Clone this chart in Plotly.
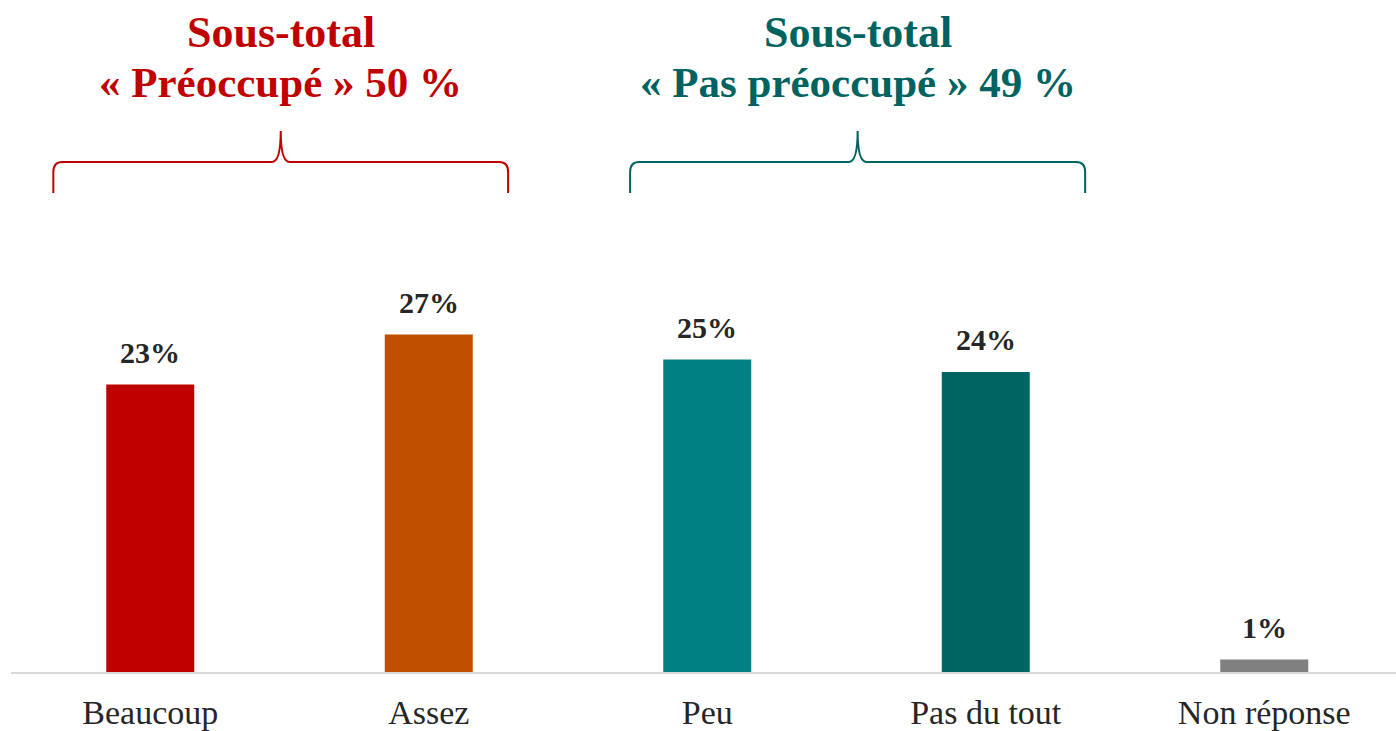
import plotly.graph_objects as go

categories = ["Beaucoup", "Assez", "Peu", "Pas du tout", "Non réponse"]
values = [23, 27, 25, 24, 1]
labels = ["23%", "27%", "25%", "24%", "1%"]
bar_colors = ["#C00000", "#C05000", "#008080", "#006462", "#808080"]

group_titles = ["Sous-total", "Sous-total"]
group_subtitles = ["« Préoccupé » 50 %", "« Pas préoccupé » 49 %"]
group_colors = ["#C00000", "#00635F"]
group_spans = [(-0.348, 1.285), (1.723, 3.357)]

FONT = "Palatino Linotype, Book Antiqua, Palatino, Liberation Serif, serif"
W, H = 1396, 731
ML, MR, MT, MB = 11, 0, 0, 59
PX_PER_UNIT = 278.5
PX_PER_PCT = 12.5
plot_w = W - ML - MR
plot_h = H - MT - MB
x_range = [-0.5, -0.5 + plot_w / PX_PER_UNIT]
y_range = [0, plot_h / PX_PER_PCT]

xs = list(range(len(categories)))

fig = go.Figure()
fig.add_trace(go.Bar(
    x=xs, y=values, width=88 / PX_PER_UNIT,
    marker=dict(color=bar_colors, line=dict(width=0)),
    hoverinfo="skip",
))

annotations = []
for x, v, t in zip(xs, values, labels):
    annotations.append(dict(
        x=x, y=v, xref="x", yref="y", text="<b>" + t + "</b>",
        showarrow=False, yanchor="bottom", yshift=14,
        font=dict(family=FONT, size=30, color="#262626"),
    ))


def py(p):
    return (H - MB - p) / PX_PER_PCT


shapes = []
for (x0, x1), col, t1, t2 in zip(group_spans, group_colors, group_titles, group_subtitles):
    tip = (x0 + x1) / 2
    yE, yH, yT = py(193), py(162), py(131)
    dx = 9 / PX_PER_UNIT
    dy = 10 / PX_PER_PCT
    path = (f"M {x0},{yE} L {x0},{yH - dy} Q {x0},{yH} {x0 + dx},{yH} "
            f"L {tip - dx},{yH} Q {tip},{yH} {tip},{yT} "
            f"Q {tip},{yH} {tip + dx},{yH} L {x1 - dx},{yH} "
            f"Q {x1},{yH} {x1},{yH - dy} L {x1},{yE}")
    shapes.append(dict(type="path", path=path, xref="x", yref="y",
                       line=dict(color=col, width=2)))
    annotations.append(dict(
        x=tip, y=py(32), xref="x", yref="y", text="<b>" + t1 + "</b>",
        showarrow=False, yanchor="middle",
        font=dict(family=FONT, size=44, color=col),
    ))
    annotations.append(dict(
        x=tip, y=py(82), xref="x", yref="y", text="<b>" + t2 + "</b>",
        showarrow=False, yanchor="middle",
        font=dict(family=FONT, size=43, color=col),
    ))

fig.update_layout(
    width=W, height=H,
    margin=dict(l=ML, r=MR, t=MT, b=MB, pad=0),
    plot_bgcolor="white", paper_bgcolor="white",
    showlegend=False,
    shapes=shapes, annotations=annotations,
    xaxis=dict(
        range=x_range, tickmode="array", tickvals=xs, ticktext=categories,
        showgrid=False, zeroline=False, showline=True,
        linecolor="#D9D9D9", linewidth=2, ticks="",
        tickfont=dict(family=FONT, size=34, color="#262626"),
        ticklabelstandoff=9, fixedrange=True, automargin=False,
    ),
    yaxis=dict(range=y_range, visible=False, fixedrange=True, automargin=False),
)

fig.write_html(
    "out.html",
    config={"displayModeBar": False},
    post_script="document.body.style.margin='0';document.body.style.overflow='hidden';",
)
